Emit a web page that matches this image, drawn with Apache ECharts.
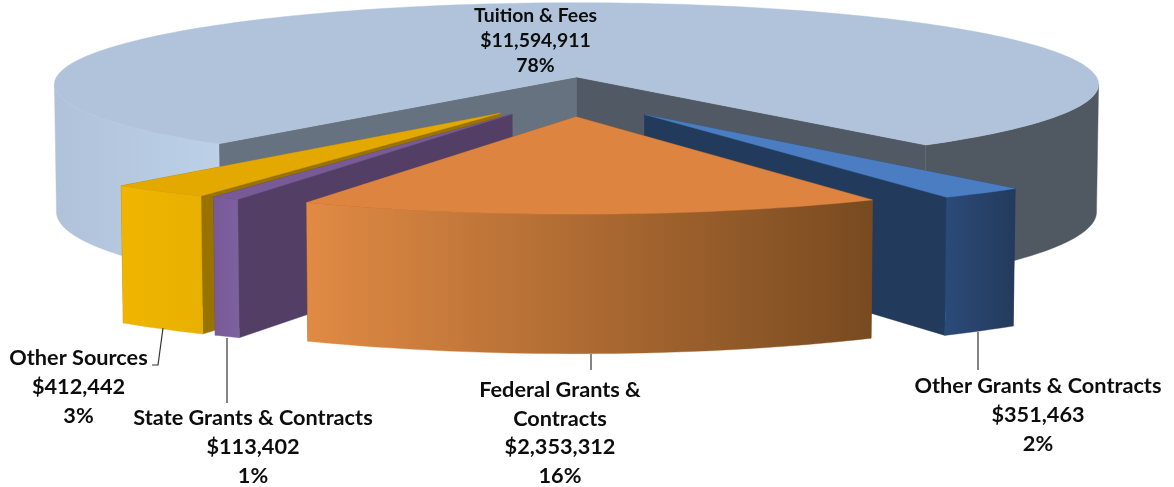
<!DOCTYPE html>
<html>
<head>
<meta charset="utf-8">
<style>html,body{margin:0;padding:0;background:#fff}#c{width:1174px;height:487px}</style>
<script src="https://cdn.jsdelivr.net/npm/echarts@6/dist/echarts.min.js"></script>
</head>
<body>
<div id="c"></div>
<script>
// Data, in the pie's own clockwise order
var categories = ['Tuition & Fees', 'Other Grants & Contracts', 'Federal Grants & Contracts', 'State Grants & Contracts', 'Other Sources'];
var values = [11594911, 351463, 2353312, 113402, 412442];

// Name wrapping of the labels
var nameLines = [['Tuition & Fees'], ['Other Grants & Contracts'], ['Federal Grants &', 'Contracts'], ['State Grants & Contracts'], ['Other Sources']];

// Styles
var sliceStyles = [
  {top: '#b0c3da', sideLeft: ['#afc2da', '#bcd0e8'], sideRight: ['#505862', '#505862'], wallA: '#667280', wallB: '#515a64'},
  {top: '#4a7dc1', side: ['#2b4a78', '#233a5c'], wallA: '#223a5c', wallB: '#223a5c'},
  {top: '#dd8440', side: ['#e18a44', '#784a20'], wallA: '#784a20', wallB: '#784a20'},
  {top: '#775a96', side: ['#775a96', '#7d609e'], wallA: '#533e66', wallB: '#533e66'},
  {top: '#e4a900', side: ['#efb500', '#e8b000'], wallA: '#997300', wallB: '#997300'}
];
var drawOrder = [0, 4, 3, 1, 2];
var offsets = [[0, 0], [0.126, 0.445], [-0.001, 0.47], [-0.119, 0.44], [-0.141, 0.43]];
var labelBoxes = [
  {x: 535.5, y: 16, size: 19.4, gap: 25},
  {x: 1038, y: 386, size: 21.7, gap: 29},
  {x: 560, y: 390, size: 21.7, gap: 28.7},
  {x: 253, y: 418, size: 21.7, gap: 29},
  {x: 78.5, y: 358, size: 21.7, gap: 29}
];
var leaders = [
  null,
  [[978, 332], [978, 370]],
  [[591, 354], [591, 370]],
  [[227, 338], [227, 403]],
  [[163, 328], [158, 365], [152, 365]]
];

// Projection of the tilted disc
var view = {cx: 576.5, cy: 77, R: 520, Rt: 81, H: 127, k: 0.09, m: 0.004, hGrow: 0.07, startDeg: -39.8};
function project(u, v, z) {
  var s = 1 / (1 - view.k * v + view.m * z);
  return [view.cx + u * view.R * s, view.cy + v * view.Rt * s + z * view.H * (1 + view.hGrow * v)];
}
var total = values.reduce(function (a, b) { return a + b; }, 0);
function spanOf(i) {
  var before = 0;
  for (var j = 0; j < i; j++) before += values[j];
  var a = view.startDeg - before / total * 360;
  return [a, a - values[i] / total * 360];
}
function rimPoint(deg, off, z) {
  var t = deg * Math.PI / 180;
  return project(Math.sin(t) + off[0], Math.cos(t) + off[1], z);
}
function arc(a, b, off, z) {
  var n = Math.max(2, Math.ceil(Math.abs(b - a) / 1.5)), pts = [];
  for (var i = 0; i <= n; i++) pts.push(rimPoint(a + (b - a) * i / n, off, z));
  return pts;
}
function grad(x1, x2, stops) {
  return {type: 'linear', global: true, x: x1, y: 0, x2: x2, y2: 0,
    colorStops: [{offset: 0, color: stops[0]}, {offset: 1, color: stops[1]}]};
}
function poly(points, fill) {
  return {type: 'polygon', shape: {points: points}, style: {fill: fill, stroke: fill, lineWidth: 0.4}};
}
function sidePoly(a, b, off, stops) {
  var top = arc(a, b, off, 0), bot = arc(a, b, off, 1).reverse();
  var xs = top.map(function (p) { return p[0]; });
  return poly(top.concat(bot), grad(Math.min.apply(null, xs), Math.max.apply(null, xs), stops));
}
function wall(deg, off, fill) {
  return poly([project(off[0], off[1], 0), rimPoint(deg, off, 0), rimPoint(deg, off, 1), project(off[0], off[1], 1)], fill);
}

function renderSlice(params, api) {
  var i = api.value(0), st = sliceStyles[i], off = offsets[i], sp = spanOf(i), kids = [];
  var near = Math.abs(Math.sin(sp[0] * Math.PI / 180)) < Math.abs(Math.sin(sp[1] * Math.PI / 180));
  var wa = wall(sp[0], off, st.wallA), wb = wall(sp[1], off, st.wallB);
  if (near) { kids.push(wb, wa); } else { kids.push(wa, wb); }
  if (i === 0) {
    // the outer band stops where the rim turns away from the viewer
    var edge = Math.acos(view.k) * 180 / Math.PI;
    kids.push(sidePoly(sp[0], -edge, off, st.sideLeft));
    kids.push(sidePoly(sp[1], -360 + edge, off, st.sideRight));
  } else {
    kids.push(sidePoly(sp[0], sp[1], off, st.side));
  }
  var rim = arc(sp[0], sp[1], off, 0);
  rim.push(project(off[0], off[1], 0));
  kids.push(poly(rim, st.top));
  return {type: 'group', children: kids};
}

function money(v) { return '$' + String(v).replace(/\B(?=(\d{3})+$)/g, ','); }

function renderLabel(params, api) {
  var i = api.value(0), b = labelBoxes[i], kids = [];
  var lines = nameLines[i].concat([money(values[i]), Math.round(values[i] / total * 100) + '%']);
  if (leaders[i]) {
    kids.push({type: 'polyline', shape: {points: leaders[i]}, style: {stroke: '#333', lineWidth: 1.2, fill: null}});
  }
  lines.forEach(function (t, n) {
    kids.push({type: 'text', style: {
      text: t, x: b.x, y: b.y + n * b.gap, align: 'center', verticalAlign: 'middle',
      fontFamily: 'Lato', fontWeight: 'bold', fontSize: b.size, fill: '#0d0d0d'
    }});
  });
  return {type: 'group', children: kids};
}

var chart = echarts.init(document.getElementById('c'), null, {renderer: 'canvas', width: 1174, height: 487});
chart.setOption({
  animation: false,
  backgroundColor: '#fff',
  series: [
    {type: 'custom', coordinateSystem: 'none', silent: true, z: 1, renderItem: renderSlice,
      data: drawOrder.map(function (i) { return [i, values[i]]; })},
    {type: 'custom', coordinateSystem: 'none', silent: true, z: 2, renderItem: renderLabel,
      data: categories.map(function (c, i) { return [i, values[i]]; })}
  ]
});
</script>
</body>
</html>
